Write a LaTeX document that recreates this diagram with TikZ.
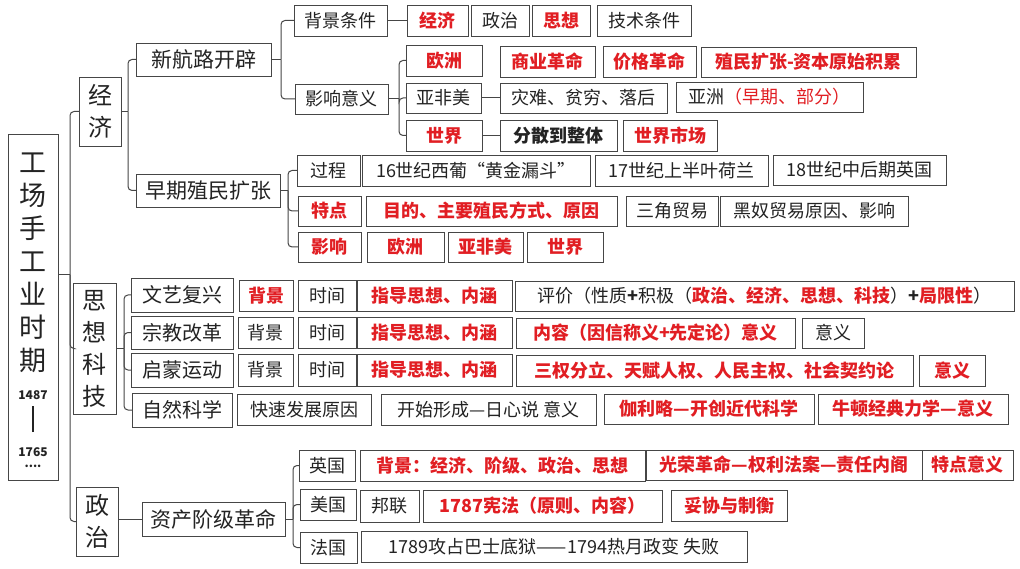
\documentclass[tikz,border=0pt]{standalone}
\usepackage{fontspec}
\setmainfont{Noto Sans CJK SC}
\definecolor{hred}{RGB}{225,30,35}
\definecolor{hline}{RGB}{70,70,70}
\definecolor{htext}{RGB}{35,35,35}
% box from its corners: style, name, x1, y1, x2, y2, text
\newcommand\cbox[7]{\node[#1,minimum width={#5-#3},minimum height={#6-#4}] (#2) at ({(#3+#5)/2},{(#4+#6)/2}) {#7};}
\begin{document}
\begin{tikzpicture}[x=1pt,y=-1pt,
  bx/.style={draw=hline,line width=0.9pt,fill=white,inner sep=0pt,outer sep=0pt,text=htext,font=\fontsize{18}{20}\selectfont},
  rbx/.style={bx,text=hred,font=\fontsize{18}{20}\selectfont\bfseries},
  bigbx/.style={bx,font=\fontsize{21}{24}\selectfont},
  midbx/.style={bx,font=\fontsize{20}{23}\selectfont},
  vbx/.style={bx,align=center,font=\fontsize{24}{32}\selectfont},
  link/.style={draw=hline,line width=1pt,rounded corners=4pt}]
\path[use as bounding box,fill=white] (0,0) rectangle (1020,569);
% root and first level
\cbox{bx}{root}{8}{134}{58}{480}{}
\node[align=center,inner sep=0pt,text=htext,font=\fontsize{27}{33}\selectfont] (rootT) at (33,263) {工\\场\\手\\工\\业\\时\\期};
\node[align=center,inner sep=0pt,anchor=north,text=htext,font=\fontsize{12}{14}\selectfont\bfseries] (rootY) at (33,390) {1487\\[6pt]\rule{2.5pt}{26pt}\\[10pt]1765\\\raisebox{3pt}{....}};
\cbox{vbx}{jj}{79}{77}{121}{146}{经\\济}
\cbox{vbx}{sx}{73}{283}{116}{414}{思\\想\\科\\技}
\cbox{vbx}{zz}{76}{487}{118}{556}{政\\治}
% economy
\cbox{bigbx}{xhl}{136}{43}{271}{76}{新航路开辟}
\cbox{bigbx}{zqzm}{136}{174}{280}{207}{早期殖民扩张}
\cbox{bx}{bjtj}{294}{5}{387}{36}{背景条件}
\cbox{bx}{yxyy}{295}{84}{388}{114}{影响意义}
\cbox{rbx}{jjR}{407}{5}{468}{36}{经济}
\cbox{bx}{zzB}{471}{5}{529}{36}{政治}
\cbox{rbx}{sxR}{532}{5}{590}{36}{思想}
\cbox{bx}{jstj}{597}{5}{691}{36}{技术条件}
\cbox{rbx}{oz}{406}{45}{482}{76}{欧洲}
\cbox{rbx}{sygm}{500}{46}{595}{77}{商业革命}
\cbox{rbx}{jggm}{603}{46}{696}{77}{价格革命}
\cbox{rbx}{zmkz}{701}{47}{916}{77}{殖民扩张-资本原始积累}
\cbox{bx}{yfm}{406}{83}{481}{113}{亚非美}
\cbox{bx}{znpq}{500}{83}{667}{113}{灾难、贫穷、落后}
\cbox{bx}{yz}{676}{82}{863}{112}{亚洲\textcolor{hred}{（早期、部分）}}
\cbox{rbx}{sj}{406}{120}{482}{151}{世界}
\cbox{bx}{fsdzt}{500}{120}{617}{151}{\bfseries 分散到整体}
\cbox{rbx}{sjsc}{623}{120}{717}{151}{世界市场}
\cbox{bx}{gc}{297}{155}{360}{186}{过程}
\cbox{bx}{p16}{362}{155}{590}{186}{16世纪西葡“黄金漏斗”}
\cbox{bx}{p17}{595}{155}{768}{186}{17世纪上半叶荷兰}
\cbox{bx}{p18}{773}{155}{946}{185}{18世纪中后期英国}
\cbox{rbx}{td}{298}{196}{361}{226}{特点}
\cbox{rbx}{mdyy}{366}{196}{617}{226}{目的、主要殖民方式、原因}
\cbox{bx}{sjmy}{626}{196}{718}{226}{三角贸易}
\cbox{bx}{hnmy}{720}{196}{908}{226}{黑奴贸易原因、影响}
\cbox{rbx}{yx}{298}{232}{361}{262}{影响}
\cbox{rbx}{yxOz}{367}{232}{444}{262}{欧洲}
\cbox{rbx}{yxYfm}{448}{232}{523}{262}{亚非美}
\cbox{rbx}{yxSj}{527}{232}{603}{262}{世界}
% thought and science
\cbox{midbx}{wyfx}{131}{278}{233}{312}{文艺复兴}
\cbox{midbx}{zjgg}{131}{316}{233}{349}{宗教改革}
\cbox{midbx}{qmyd}{131}{353}{233}{387}{启蒙运动}
\cbox{midbx}{zrkx}{132}{393}{232}{427}{自然科学}
\cbox{rbx}{bj1}{239}{280}{293}{311}{背景}
\cbox{bx}{sj1}{298}{280}{356}{311}{时间}
\cbox{rbx}{zd1}{357}{280}{512}{311}{指导思想、内涵}
\cbox{bx}{pj}{515}{281}{1014}{311}{评价（性质\textbf{+}积极（\textcolor{hred}{\bfseries 政治、经济、思想、科技}）\textbf{+}\textcolor{hred}{\bfseries 局限性}）}
\cbox{bx}{bj2}{238}{317}{293}{348}{背景}
\cbox{bx}{sj2}{298}{317}{356}{348}{时间}
\cbox{rbx}{zd2}{357}{317}{512}{348}{指导思想、内涵}
\cbox{rbx}{nr}{516}{318}{795}{348}{内容（因信称义+先定论）意义}
\cbox{bx}{yy2}{802}{318}{864}{348}{意义}
\cbox{bx}{bj3}{238}{354}{293}{386}{背景}
\cbox{bx}{sj3}{298}{354}{356}{386}{时间}
\cbox{rbx}{zd3}{357}{354}{512}{386}{指导思想、内涵}
\cbox{rbx}{sqfl}{516}{355}{913}{386}{三权分立、天赋人权、人民主权、社会契约论}
\cbox{rbx}{yy3}{919}{355}{985}{386}{意义}
\cbox{bx}{ksfz}{237}{394}{371}{425}{快速发展原因}
\cbox{bx}{ksxc}{381}{394}{596}{425}{开始形成—日心说 意义}
\cbox{rbx}{jll}{604}{394}{814}{424}{伽利略—开创近代科学}
\cbox{rbx}{nd}{818}{394}{1008}{424}{牛顿经典力学—意义}
% politics
\cbox{bigbx}{zcjj}{142}{502}{285}{536}{资产阶级革命}
\cbox{bx}{yg}{299}{450}{355}{481}{英国}
\cbox{bx}{mg}{300}{489}{356}{520}{美国}
\cbox{bx}{fg}{300}{532}{357}{563}{法国}
\cbox{rbx}{ygBj}{360}{450}{645}{481}{背景：经济、阶级、政治、思想}
\cbox{rbx}{ygGr}{646}{450}{922}{480}{光荣革命—权利法案—责任内阁}
\cbox{rbx}{ygTd}{922}{450}{1013}{480}{特点意义}
\cbox{bx}{mgBl}{360}{490}{419}{522}{邦联}
\cbox{rbx}{mgXf}{423}{490}{662}{522}{1787宪法（原则、内容）}
\cbox{rbx}{mgTx}{671}{490}{787}{521}{妥协与制衡}
\cbox{bx}{fgGm}{361}{531}{747}{562}{1789攻占巴士底狱——1794热月政变 失败}
% brackets
\draw[link] ([yshift=32pt]root.east) -- ++(12,0) coordinate (rootB);
\foreach \k in {jj,sx,zz} \draw[link] (rootB) |- (\k.west);
\draw[link] (jj.east) -- ++(7,0) coordinate (jjB);
\foreach \k in {xhl,zqzm} \draw[link] (jjB) |- (\k.west);
\draw[link] (xhl.east) -- ++(10,0) coordinate (xhlB);
\foreach \k in {bjtj,yxyy} \draw[link] (xhlB) |- (\k.west);
\draw[link] (yxyy.east) -- ++(11,0) coordinate (yxyyB);
\foreach \k in {oz,yfm,sj} \draw[link] (yxyyB) |- (\k.west);
\draw[link] (zqzm.east) -- ++(8,0) coordinate (zqzmB);
\foreach \k in {gc,td,yx} \draw[link] (zqzmB) |- (\k.west);
\draw[link] (sx.east) -- ++(8,0) coordinate (sxB);
\foreach \k in {wyfx,zjgg,qmyd,zrkx} \draw[link] (sxB) |- (\k.west);
\draw[link] (zcjj.east) -- ++(8,0) coordinate (zcjjB);
\foreach \k in {yg,mg,fg} \draw[link] (zcjjB) |- (\k.west);
% straight links
\draw[link] (zcjj.west -| zz.east) -- (zcjj.west);
\draw[link] (bjtj.east) -- (jjR.west);
\draw[link] (oz.east) -- (sygm.west -| oz.east);
\draw[link] (yfm.east) -- (znpq.west);
\draw[link] (sj.east) -- (fsdzt.west);
\end{tikzpicture}
\end{document}
